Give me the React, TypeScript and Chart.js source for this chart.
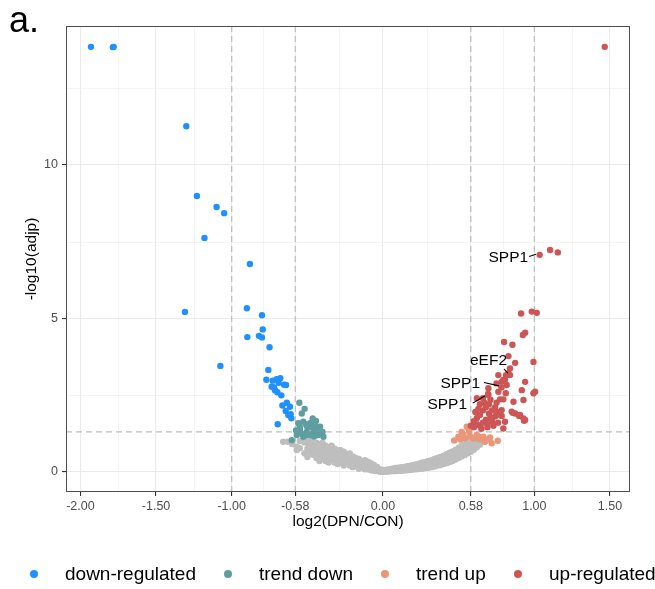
import React, { useEffect, useRef } from "react";
import { Chart, registerables } from "chart.js";

Chart.register(...registerables);

// ---------- axis definitions ----------
const xTickValues = [-2, -1.5, -1, -0.58, 0, 0.58, 1, 1.5];
const xMinorValues = [-1.75, -1.25, -0.79, -0.29, 0.29, 0.79, 1.25];
const yTickValues = [0, 5, 10];
const yMinorValues = [2.5, 7.5, 12.5];
const foldCutoffs = [-1, -0.58, 0.58, 1];
const pCutoff = 1.3;
const xRange = [-2.095, 1.632];
const yRange = [-0.66, 14.53];

const xTitle = "log2(DPN/CON)";
const yTitle = "-log10(adjp)";
const panelTag = "a.";

// ---------- series ----------
const seriesNames = ["down-regulated", "trend down", "trend up", "up-regulated"];

const downRegulated: [number, number][] = [
  [-1.93, 13.85], [-1.78, 13.85], [-1.785, 13.84], [-1.3, 11.26], [-1.23, 8.99], [-1.1, 8.63],
  [-1.05, 8.43], [-1.18, 7.62], [-0.88, 6.77], [-1.309, 5.21], [-1.075, 3.45], [-0.9, 5.33],
  [-0.8, 5.1], [-0.795, 4.64], [-0.897, 4.39], [-0.82, 4.43], [-0.8, 4.38], [-0.75, 4.06],
  [-0.758, 3.32], [-0.771, 3.0], [-0.729, 2.97], [-0.703, 3.02], [-0.679, 3.05], [-0.736, 2.77],
  [-0.714, 2.66], [-0.654, 2.84], [-0.641, 2.83], [-0.672, 2.49], [-0.698, 2.59], [-0.665, 2.16],
  [-0.636, 2.25], [-0.615, 2.12], [-0.643, 1.98], [-0.626, 1.85], [-0.606, 1.74], [-0.61, 1.88],
  [-0.696, 1.55], [-0.72, 2.75], [-0.69, 2.9],
];

const trendDown: [number, number][] = [
  [-0.553, 2.25], [-0.518, 2.05], [-0.537, 1.9], [-0.56, 1.58], [-0.527, 1.63], [-0.483, 1.58],
  [-0.45, 1.58], [-0.416, 1.47], [-0.549, 1.36], [-0.504, 1.3], [-0.46, 1.3], [-0.416, 1.25],
  [-0.394, 1.14], [-0.57, 1.2], [-0.527, 1.14], [-0.48, 1.2], [-0.603, 1.03], [-0.438, 1.41],
  [-0.443, 1.66], [-0.465, 1.74], [-0.55, 1.45], [-0.5, 1.45], [-0.47, 1.45], [-0.43, 1.2],
  [-0.51, 1.2], [-0.54, 1.25], [-0.4, 1.3], [-0.575, 1.35], [-0.455, 1.15], [-0.51, 1.55],
];

const trendUp: [number, number][] = [
  [0.553, 1.47], [0.52, 1.3], [0.498, 1.14], [0.57, 1.3], [0.619, 1.2], [0.663, 1.14],
  [0.707, 1.12], [0.758, 1.01], [0.593, 1.09], [0.542, 1.09], [0.641, 1.06], [0.575, 1.16],
  [0.564, 1.41], [0.531, 1.22], [0.608, 1.09], [0.674, 0.98], [0.718, 0.93], [0.69, 1.05],
  [0.63, 1.15], [0.51, 1.05], [0.47, 1.02],
];

const upRegulated: [number, number][] = [
  [1.465, 13.85], [1.035, 7.07], [1.104, 7.23], [1.155, 7.15], [0.912, 5.16], [0.983, 5.22],
  [1.016, 5.18], [0.939, 4.53], [0.924, 4.46], [0.8, 4.23], [0.855, 4.14], [0.829, 3.77],
  [0.873, 3.55], [0.994, 3.58], [0.839, 3.37], [0.829, 3.21], [0.806, 3.01], [0.762, 3.15],
  [0.784, 2.93], [0.817, 2.83], [0.75, 2.88], [0.939, 2.93], [0.994, 2.56], [0.917, 2.66],
  [0.862, 2.28], [0.928, 1.74], [0.873, 1.9], [0.806, 1.63], [0.784, 2.01], [0.811, 2.56],
  [0.762, 2.61], [0.696, 2.72], [0.696, 2.5], [0.795, 2.99], [0.773, 2.36], [0.795, 2.36],
  [0.857, 1.92], [0.9, 1.82], [0.784, 1.82], [0.795, 1.41], [0.932, 1.66], [0.75, 1.85],
  [0.85, 1.96], [0.905, 1.85], [0.939, 1.69], [0.928, 2.34], [1.005, 2.61], [0.813, 3.15],
  [0.6, 1.45], [0.62, 1.55], [0.64, 1.5], [0.66, 1.6], [0.68, 1.7], [0.7, 1.9], [0.72, 2.0],
  [0.74, 2.1], [0.62, 1.75], [0.64, 1.85], [0.66, 2.0], [0.68, 2.1], [0.7, 2.2], [0.72, 1.65],
  [0.74, 1.8], [0.76, 1.95], [0.6, 1.65], [0.65, 1.4], [0.69, 1.45], [0.73, 1.5], [0.76, 1.6],
  [0.63, 2.05], [0.67, 2.25], [0.71, 2.35], [0.75, 2.25], [0.58, 1.5], [0.61, 1.95], [0.64, 2.2],
  [0.62, 2.4], [0.66, 2.4], [0.69, 1.55], [0.71, 1.75], [0.694, 2.54], [0.783, 2.75], [0.839, 3.15],
];

const notSignificant: [number, number][] = [
  [-0.66, 0.98], [-0.63, 0.98], [-0.6, 0.9], [-0.57, 0.71], [-0.57, 0.82], [-0.55, 0.77], [-0.55, 1.0],
  [-0.52, 0.6], [-0.52, 0.95], [-0.5, 0.48], [-0.5, 0.75], [-0.5, 1.0], [-0.49, 0.58], [-0.49, 0.9],
  [-0.48, 0.65], [-0.48, 0.82], [-0.48, 1.05], [-0.47, 0.72], [-0.47, 0.98], [-0.46, 0.55],
  [-0.46, 0.9], [-0.45, 0.62], [-0.45, 0.82], [-0.44, 0.45], [-0.44, 0.7], [-0.44, 0.95],
  [-0.43, 0.52], [-0.43, 0.8], [-0.42, 0.35], [-0.42, 0.6], [-0.42, 0.9], [-0.41, 0.48],
  [-0.41, 0.72], [-0.4, 0.45], [-0.4, 0.75], [-0.4, 0.95], [-0.39, 0.5], [-0.39, 0.72],
  [-0.38, 0.35], [-0.38, 0.6], [-0.38, 0.85], [-0.37, 0.42], [-0.37, 0.68], [-0.36, 0.3],
  [-0.36, 0.5], [-0.36, 0.8], [-0.35, 0.52], [-0.35, 0.75], [-0.34, 0.4], [-0.34, 0.65],
  [-0.34, 0.85], [-0.33, 0.45], [-0.33, 0.68], [-0.32, 0.3], [-0.32, 0.55], [-0.32, 0.75],
  [-0.31, 0.38], [-0.31, 0.6], [-0.3, 0.25], [-0.3, 0.45], [-0.3, 0.7], [-0.29, 0.5],
  [-0.29, 0.65], [-0.28, 0.35], [-0.28, 0.6], [-0.28, 0.7], [-0.27, 0.3], [-0.27, 0.52],
  [-0.26, 0.2], [-0.26, 0.45], [-0.26, 0.65], [-0.25, 0.38], [-0.25, 0.6], [-0.24, 0.3],
  [-0.24, 0.55], [-0.23, 0.28], [-0.23, 0.48], [-0.22, 0.2], [-0.22, 0.4], [-0.22, 0.6],
  [-0.21, 0.22], [-0.21, 0.42], [-0.2, 0.15], [-0.2, 0.3], [-0.2, 0.5], [-0.19, 0.25],
  [-0.19, 0.38], [-0.18, 0.2], [-0.18, 0.45], [-0.17, 0.18], [-0.17, 0.35], [-0.16, 0.1],
  [-0.16, 0.3], [-0.16, 0.42], [-0.15, 0.22], [-0.15, 0.3], [-0.14, 0.15], [-0.14, 0.35],
  [-0.13, 0.15], [-0.13, 0.3], [-0.12, 0.08], [-0.12, 0.25], [-0.12, 0.38], [-0.11, 0.15],
  [-0.11, 0.28], [-0.1, 0.08], [-0.1, 0.22], [-0.1, 0.33], [-0.09, 0.12], [-0.09, 0.22],
  [-0.08, 0.05], [-0.08, 0.18], [-0.08, 0.28], [-0.07, 0.1], [-0.07, 0.2], [-0.06, 0.03],
  [-0.06, 0.15], [-0.06, 0.22], [-0.05, 0.06], [-0.05, 0.12], [-0.04, 0.02], [-0.04, 0.1],
  [-0.04, 0.16], [-0.03, 0.05], [-0.02, 0.0], [-0.02, 0.08], [-0.01, 0.03], [0.0, 0.0],
  [0.0, 0.06], [0.01, 0.03], [0.02, 0.0], [0.02, 0.07], [0.03, 0.04], [0.04, 0.01],
  [0.04, 0.08], [0.05, 0.05], [0.06, 0.02], [0.06, 0.1], [0.07, 0.06], [0.08, 0.02],
  [0.08, 0.12], [0.09, 0.07], [0.1, 0.03], [0.1, 0.13], [0.11, 0.08], [0.12, 0.03],
  [0.12, 0.15], [0.13, 0.1], [0.14, 0.04], [0.14, 0.16], [0.15, 0.11], [0.16, 0.05],
  [0.16, 0.18], [0.17, 0.12], [0.18, 0.06], [0.18, 0.2], [0.19, 0.14], [0.2, 0.07],
  [0.2, 0.22], [0.21, 0.15], [0.22, 0.08], [0.22, 0.25], [0.23, 0.17], [0.24, 0.09],
  [0.24, 0.27], [0.25, 0.18], [0.26, 0.1], [0.26, 0.2], [0.26, 0.3], [0.27, 0.21],
  [0.28, 0.12], [0.28, 0.22], [0.28, 0.32], [0.29, 0.25], [0.3, 0.13], [0.3, 0.24],
  [0.3, 0.35], [0.31, 0.27], [0.32, 0.15], [0.32, 0.26], [0.32, 0.38], [0.33, 0.3],
  [0.34, 0.17], [0.34, 0.29], [0.34, 0.42], [0.35, 0.33], [0.36, 0.2], [0.36, 0.32],
  [0.36, 0.45], [0.37, 0.36], [0.38, 0.22], [0.38, 0.35], [0.38, 0.48], [0.39, 0.4],
  [0.4, 0.25], [0.4, 0.38], [0.4, 0.52], [0.41, 0.43], [0.42, 0.28], [0.42, 0.42],
  [0.42, 0.57], [0.43, 0.48], [0.44, 0.32], [0.44, 0.47], [0.44, 0.62], [0.45, 0.52],
  [0.46, 0.35], [0.46, 0.5], [0.46, 0.66], [0.47, 0.57], [0.48, 0.4], [0.48, 0.56],
  [0.48, 0.72], [0.49, 0.62], [0.5, 0.45], [0.5, 0.61], [0.5, 0.78], [0.51, 0.68],
  [0.52, 0.5], [0.52, 0.67], [0.52, 0.85], [0.53, 0.74], [0.54, 0.55], [0.54, 0.72],
  [0.54, 0.9], [0.55, 0.8], [0.56, 0.6], [0.56, 0.77], [0.56, 0.95], [0.57, 0.85],
  [0.58, 0.65], [0.58, 0.82], [0.58, 1.0], [0.59, 0.9], [0.6, 0.72], [0.6, 0.87],
  [0.6, 1.02], [0.61, 0.95], [0.62, 0.8], [0.62, 0.92], [0.62, 1.05], [0.63, 0.98],
  [0.64, 0.88],
];

// gene labels (data point they point at)
const geneNames = ["SPP1", "eEF2", "SPP1", "SPP1"];
const geneX = [1.035, 0.839, 0.783, 0.694];
const geneY = [7.07, 3.15, 2.75, 2.54];

const COLORS = {
  down: "#1E90FF",
  trendDown: "#5F9EA0",
  trendUp: "#E9967A",
  up: "#CD5555",
  ns: "#BEBEBE",
};

const FONT = "'Liberation Sans', Arial, Helvetica, sans-serif";

const toXY = (arr: [number, number][]) => arr.map(([x, y]) => ({ x, y }));

const decorPlugin = {
  id: "decor",
  beforeDatasetsDraw(chart: any) {
    const { ctx, chartArea: a, scales } = chart;
    const xs = scales.x;
    const ys = scales.y;
    ctx.save();
    ctx.beginPath();
    ctx.rect(a.left, a.top, a.right - a.left, a.bottom - a.top);
    ctx.clip();
    // minor grid
    ctx.strokeStyle = "#EBEBEB";
    ctx.lineWidth = 0.55;
    xMinorValues.forEach((v) => {
      const px = Math.round(xs.getPixelForValue(v)) + 0.5;
      ctx.beginPath();
      ctx.moveTo(px, a.top);
      ctx.lineTo(px, a.bottom);
      ctx.stroke();
    });
    yMinorValues.forEach((v) => {
      const py = Math.round(ys.getPixelForValue(v)) + 0.5;
      ctx.beginPath();
      ctx.moveTo(a.left, py);
      ctx.lineTo(a.right, py);
      ctx.stroke();
    });
    // cutoff dashed lines
    ctx.strokeStyle = "#BDBDBD";
    ctx.lineWidth = 1.2;
    ctx.setLineDash([6, 4]);
    foldCutoffs.forEach((v) => {
      const px = xs.getPixelForValue(v);
      ctx.beginPath();
      ctx.moveTo(px, a.top);
      ctx.lineTo(px, a.bottom);
      ctx.stroke();
    });
    const py = ys.getPixelForValue(pCutoff);
    ctx.beginPath();
    ctx.moveTo(a.left, py);
    ctx.lineTo(a.right, py);
    ctx.stroke();
    ctx.restore();
  },
  afterDatasetsDraw(chart: any) {
    const { ctx, chartArea: a, scales } = chart;
    const xs = scales.x;
    const ys = scales.y;
    ctx.save();
    // gene labels with leader segments (offsets in px relative to the point)
    const offsets = [
      { tx: -11.5, ty: 3, s: [-10.5, 1.7, -3.7, -0.7] },
      { tx: -3, ty: -14, s: [-6, -6, -2, -2] },
      { tx: -21.5, ty: -4, s: [-17.5, -4.8, -2.5, -1.5] },
      { tx: -21, ty: 11, s: [-15.3, 9.3, -3, 2] },
    ];
    ctx.font = `15.5px ${FONT}`;
    ctx.fillStyle = "#000";
    ctx.strokeStyle = "#000";
    ctx.lineWidth = 1.1;
    ctx.textAlign = "right";
    ctx.textBaseline = "middle";
    geneNames.forEach((name, i) => {
      const px = xs.getPixelForValue(geneX[i]);
      const py = ys.getPixelForValue(geneY[i]);
      const o = offsets[i];
      ctx.fillText(name, px + o.tx, py + o.ty);
      ctx.beginPath();
      ctx.moveTo(px + o.s[0], py + o.s[1]);
      ctx.lineTo(px + o.s[2], py + o.s[3]);
      ctx.stroke();
    });
    // panel border
    ctx.strokeStyle = "#4D4D4D";
    ctx.lineWidth = 1;
    ctx.strokeRect(a.left + 0.5, a.top + 0.5, a.right - a.left - 1, a.bottom - a.top - 1);
    ctx.restore();
  },
  afterDraw(chart: any) {
    const { ctx, chartArea: a } = chart;
    ctx.save();
    ctx.fillStyle = "#000";
    // axis titles
    ctx.font = `15.5px ${FONT}`;
    ctx.textAlign = "center";
    ctx.textBaseline = "middle";
    ctx.fillText(xTitle, (a.left + a.right) / 2, 522);
    ctx.save();
    ctx.translate(32, (a.top + a.bottom) / 2);
    ctx.rotate(-Math.PI / 2);
    ctx.fillText(yTitle, 0, 0);
    ctx.restore();
    // panel tag
    ctx.font = `36px ${FONT}`;
    ctx.textAlign = "left";
    ctx.textBaseline = "alphabetic";
    ctx.fillText(panelTag, 9, 32);
    // legend
    const cols = [COLORS.down, COLORS.trendDown, COLORS.trendUp, COLORS.up];
    const dotX = [34, 228, 385, 518];
    const ly = 574;
    ctx.font = `19px ${FONT}`;
    ctx.textBaseline = "middle";
    seriesNames.forEach((name, i) => {
      ctx.fillStyle = cols[i];
      ctx.beginPath();
      ctx.arc(dotX[i], ly, 4, 0, Math.PI * 2);
      ctx.fill();
      ctx.fillStyle = "#000";
      ctx.fillText(name, dotX[i] + 31, ly + 1);
    });
    ctx.restore();
  },
};

export default function App() {
  const canvasRef = useRef<HTMLCanvasElement | null>(null);

  useEffect(() => {
    document.body.style.margin = "0";
    const canvas = canvasRef.current;
    if (!canvas) return;
    const mk = (label: string, pts: [number, number][], color: string) => ({
      label,
      data: toXY(pts),
      backgroundColor: color,
      borderColor: color,
      borderWidth: 0,
      pointRadius: 3.2,
      pointHoverRadius: 3.2,
    });
    const chart = new Chart(canvas, {
      type: "scatter",
      data: {
        datasets: [
          mk(seriesNames[0], downRegulated, COLORS.down),
          mk(seriesNames[3], upRegulated, COLORS.up),
          mk(seriesNames[1], trendDown, COLORS.trendDown),
          mk(seriesNames[2], trendUp, COLORS.trendUp),
          mk("ns", notSignificant, COLORS.ns),
        ],
      },
      options: {
        responsive: false,
        animation: false,
        devicePixelRatio: 1,
        events: [],
        layout: { padding: { top: 26, right: 25, left: 0, bottom: 0 }, autoPadding: false },
        plugins: { legend: { display: false }, tooltip: { enabled: false }, title: { display: false } },
        scales: {
          x: {
            type: "linear",
            min: xRange[0],
            max: xRange[1],
            afterBuildTicks: (s: any) => {
              s.ticks = xTickValues.map((v) => ({ value: v }));
            },
            afterFit: (s: any) => {
              s.height = 97;
            },
            ticks: {
              callback: (v: any) => Number(v).toFixed(2),
              color: "#4D4D4D",
              font: { family: FONT, size: 12.5 },
              padding: 3,
              maxRotation: 0,
              autoSkip: false,
            },
            grid: { color: "#EBEBEB", lineWidth: 1.1, tickColor: "#333", tickLength: 4, drawTicks: true },
            border: { display: false },
          },
          y: {
            type: "linear",
            min: yRange[0],
            max: yRange[1],
            afterBuildTicks: (s: any) => {
              s.ticks = yTickValues.map((v) => ({ value: v }));
            },
            afterFit: (s: any) => {
              s.width = 66;
            },
            ticks: {
              callback: (v: any) => String(v),
              color: "#4D4D4D",
              font: { family: FONT, size: 12.5 },
              padding: 4,
              autoSkip: false,
            },
            grid: { color: "#EBEBEB", lineWidth: 1.1, tickColor: "#333", tickLength: 4, drawTicks: true },
            border: { display: false },
          },
        },
      },
      plugins: [decorPlugin],
    } as any);
    return () => chart.destroy();
  }, []);

  return (
    <div style={{ width: 655, height: 589, position: "relative" }}>
      <canvas ref={canvasRef} width={655} height={589} style={{ display: "block" }} />
    </div>
  );
}
